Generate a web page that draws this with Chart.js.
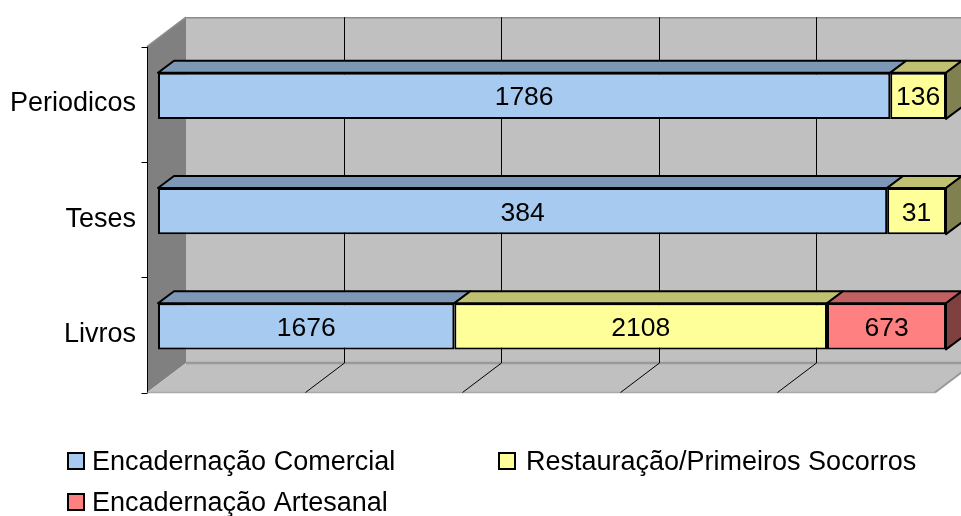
<!DOCTYPE html>
<html>
<head>
<meta charset="utf-8">
<script src="https://cdn.jsdelivr.net/npm/chart.js@4.4.0/dist/chart.umd.min.js"></script>
<style>
html, body { margin: 0; padding: 0; background: #fff; }
#wrap { width: 961px; height: 516px; position: relative; }
</style>
</head>
<body>
<div id="wrap"><canvas id="chart"></canvas></div>
<script>
/* ---------- data ---------- */
const categories = ['Periodicos', 'Teses', 'Livros'];
const seriesNames = ['Encadernação Comercial', 'Restauração/Primeiros Socorros', 'Encadernação Artesanal'];
const comercial = [1786, 384, 1676];
const restauracao = [136, 31, 2108];
const artesanal = [0, 0, 673];
const xTicks = [0, 20, 40, 60, 80, 100];

const rawSeries = [comercial, restauracao, artesanal];

/* ---------- style ---------- */
const FONT = '"Liberation Sans", Arial, sans-serif';
const FRONT = ['#A6CAF0', '#FFFF99', '#FF8080'];
const TOP = ['#7C98B6', '#C0C072', '#C06060'];
const SIDE = ['#5D7289', '#808050', '#804040'];
const BAR_DX = 16, BAR_DY = -12;       // bar depth
const BACK_DX = 28, BACK_DY = -21;     // back wall offset from bar front
const FRONT_DX = -11, FRONT_DY = 8.5;  // front plane offset from bar front

// 100% stacked -> share of each category total
const totals = categories.map((c, i) => rawSeries.reduce((s, arr) => s + arr[i], 0));
const pctSeries = rawSeries.map(arr => arr.map((v, i) => v / totals[i] * 100));

function poly(ctx, pts, fill, stroke, lw) {
    ctx.beginPath();
    pts.forEach((p, i) => i ? ctx.lineTo(p[0], p[1]) : ctx.moveTo(p[0], p[1]));
    ctx.closePath();
    if (fill) { ctx.fillStyle = fill; ctx.fill(); }
    if (stroke) { ctx.strokeStyle = stroke; ctx.lineWidth = lw || 1; ctx.stroke(); }
}

function line(ctx, x1, y1, x2, y2, color, lw) {
    ctx.beginPath();
    ctx.moveTo(x1, y1);
    ctx.lineTo(x2, y2);
    ctx.strokeStyle = color;
    ctx.lineWidth = lw || 1;
    ctx.stroke();
}

/* ---------- walls, floor, gridlines ---------- */
const wallsPlugin = {
    id: 'walls',
    beforeDatasetsDraw(chart) {
        const { ctx, chartArea: a, scales: { x } } = chart;
        const L = x.getPixelForValue(0), R = x.getPixelForValue(100);
        const T = a.top, B = a.bottom;
        ctx.save();
        // back wall
        poly(ctx, [[L + BACK_DX, T + BACK_DY], [R + BACK_DX, T + BACK_DY], [R + BACK_DX, B + BACK_DY], [L + BACK_DX, B + BACK_DY]], '#C0C0C0');
        // left wall
        poly(ctx, [[L + FRONT_DX, T + FRONT_DY], [L + BACK_DX, T + BACK_DY], [L + BACK_DX, B + BACK_DY], [L + FRONT_DX, B + FRONT_DY]], '#808080');
        // floor
        poly(ctx, [[L + FRONT_DX, B + FRONT_DY], [L + BACK_DX, B + BACK_DY], [R + BACK_DX, B + BACK_DY], [R + FRONT_DX, B + FRONT_DY]], '#C0C0C0');
        // wall edges
        line(ctx, L + BACK_DX, T + BACK_DY + 0.5, R + BACK_DX, T + BACK_DY + 0.5, '#8C8C8C', 1.5);
        line(ctx, L + FRONT_DX, T + FRONT_DY, L + BACK_DX, T + BACK_DY, '#8C8C8C', 1.5);
        line(ctx, L + BACK_DX, B + BACK_DY, R + BACK_DX, B + BACK_DY, '#999999', 2.5);
        line(ctx, R + FRONT_DX, B + FRONT_DY, R + BACK_DX, B + BACK_DY, '#999999', 2);
        line(ctx, L + FRONT_DX, B + FRONT_DY, R + FRONT_DX, B + FRONT_DY, '#A8A8A8', 1.5);
        // gridlines on back wall and floor
        xTicks.forEach(v => {
            if (v === 0 || v === 100) return;
            const px = Math.round(x.getPixelForValue(v)) + 0.5;
            line(ctx, px + BACK_DX, T + BACK_DY, px + BACK_DX, B + BACK_DY, '#000', 1);
            line(ctx, px + BACK_DX, B + BACK_DY, px + FRONT_DX, B + FRONT_DY, '#000', 1);
        });
        // category axis line + ticks
        const ax = Math.round(L + FRONT_DX) + 0.5;
        line(ctx, ax, T + FRONT_DY, ax, B + FRONT_DY, '#000', 1);
        for (let i = 0; i <= categories.length; i++) {
            const yy = Math.round(T + FRONT_DY + i * (B - T) / categories.length) + 0.5;
            line(ctx, ax - 6, yy, ax, yy, '#000', 1);
        }
        ctx.restore();
    }
};

/* ---------- 3D bar faces + value labels ---------- */
const facesPlugin = {
    id: 'faces',
    afterDatasetsDraw(chart) {
        const { ctx } = chart;
        ctx.save();
        ctx.lineJoin = 'round';
        categories.forEach((c, i) => {
            let last = -1;
            rawSeries.forEach((arr, d) => { if (arr[i] > 0) last = d; });
            rawSeries.forEach((arr, d) => {
                if (!arr[i]) return;
                const el = chart.getDatasetMeta(d).data[i];
                const { x: xe, base, y: yc, height } = el.getProps(['x', 'base', 'y', 'height'], true);
                const top = yc - height / 2, bottom = yc + height / 2;
                poly(ctx, [[base, top], [base + BAR_DX, top + BAR_DY], [xe + BAR_DX, top + BAR_DY], [xe, top]], TOP[d], '#000', 2);
                if (d === last) {
                    poly(ctx, [[xe, top], [xe + BAR_DX, top + BAR_DY], [xe + BAR_DX, bottom + BAR_DY], [xe, bottom]], SIDE[d], '#000', 2);
                }
                ctx.fillStyle = '#000';
                ctx.font = '26.5px ' + FONT;
                ctx.textAlign = 'center';
                ctx.textBaseline = 'alphabetic';
                ctx.fillText(String(arr[i]), (base + xe) / 2, yc + 9.5);
            });
        });
        ctx.restore();
    }
};

/* ---------- legend ---------- */
const legendPlugin = {
    id: 'boxLegend',
    afterDraw(chart) {
        const { ctx } = chart;
        const spots = [
            { bx: 67, by: 452, tx: 92, ty: 470 },
            { bx: 498, by: 452, tx: 526, ty: 470 },
            { bx: 67, by: 493, tx: 92, ty: 511 }
        ];
        ctx.save();
        seriesNames.forEach((name, d) => {
            const s = spots[d];
            ctx.fillStyle = FRONT[d];
            ctx.fillRect(s.bx, s.by, 18, 18);
            ctx.strokeStyle = '#000';
            ctx.lineWidth = 2;
            ctx.strokeRect(s.bx + 1, s.by + 1, 16, 16);
            ctx.fillStyle = '#000';
            ctx.font = '27px ' + FONT;
            ctx.textAlign = 'left';
            ctx.textBaseline = 'alphabetic';
            ctx.fillText(name, s.tx, s.ty);
        });
        ctx.restore();
    }
};

/* ---------- chart ---------- */
new Chart(document.getElementById('chart'), {
    type: 'bar',
    data: {
        labels: categories,
        datasets: seriesNames.map((name, d) => ({
            label: name,
            data: pctSeries[d],
            backgroundColor: FRONT[d],
            borderColor: '#000',
            borderWidth: 2,
            borderSkipped: false
        }))
    },
    options: {
        indexAxis: 'y',
        responsive: true,
        maintainAspectRatio: false,
        animation: false,
        layout: { padding: { left: 0, right: 15, top: 37, bottom: 132 } },
        datasets: { bar: { categoryPercentage: 1, barPercentage: 0.4 } },
        plugins: { legend: { display: false }, tooltip: { enabled: false } },
        scales: {
            x: { stacked: true, min: 0, max: 100, display: false },
            y: {
                stacked: true,
                grid: { display: false, drawTicks: false },
                border: { display: false },
                ticks: { color: '#000', font: { family: FONT, size: 27 }, padding: 22, labelOffset: 8 },
                afterFit(scale) { scale.width = 158; }
            }
        }
    },
    plugins: [wallsPlugin, facesPlugin, legendPlugin]
});
</script>
</body>
</html>
